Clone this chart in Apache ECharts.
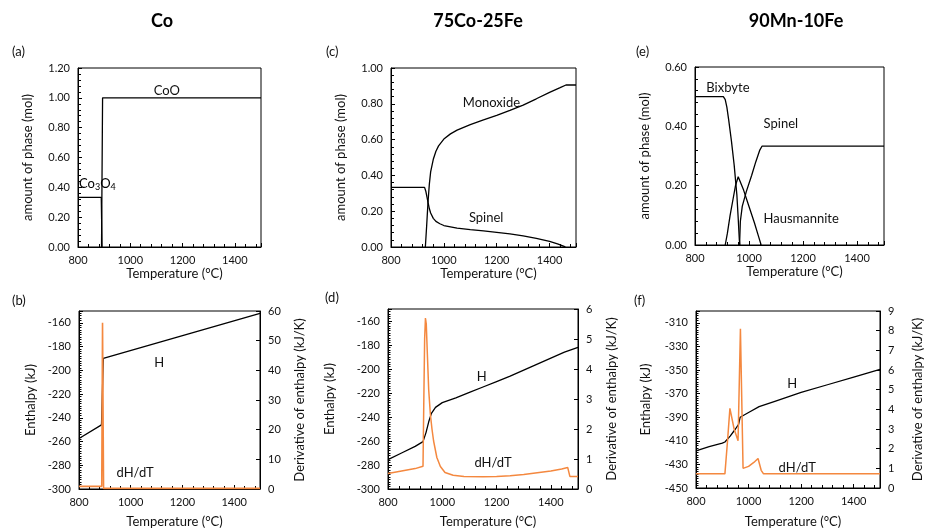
<!DOCTYPE html>
<html><head><meta charset="utf-8">
<script src="https://cdn.jsdelivr.net/npm/echarts@6/dist/echarts.min.js"></script>
<style>html,body{margin:0;padding:0;background:#fff}#c{width:925px;height:529px}</style>
</head><body><div id="c"></div>
<script>
// ---------- DATA ----------
const panelTitles = ['Co', '75Co-25Fe', '90Mn-10Fe'];
const panelLetters = ['(a)', '(c)', '(e)', '(b)', '(d)', '(f)'];
const tempTicks = [800, 1000, 1200, 1400];

// (a) Co: amount of phase (mol)  [T, mol]
const a_CoO   = [[890, 0], [894, 1.0], [1500, 1.0]];
const a_Co3O4 = [[800, 0.333], [889, 0.333], [892, 0]];

// (b) Co: enthalpy (kJ) and dH/dT (kJ/K)
const b_H    = [[800, -257.5], [887, -246], [894, -190], [1500, -152]];
const b_dHdT = [[800, 0.9], [888, 0.9], [891, 56], [895, 0.2], [1500, 0.2]];

// (c) 75Co-25Fe
const c_Monoxide = [[930, 0], [935, 0.12], [940, 0.25], [945, 0.35], [950, 0.42], [960, 0.49], [970, 0.535],
  [980, 0.565], [1000, 0.603], [1025, 0.632], [1050, 0.653], [1100, 0.684], [1150, 0.71], [1200, 0.735],
  [1250, 0.763], [1300, 0.793], [1350, 0.828], [1400, 0.864], [1440, 0.89], [1462, 0.905], [1500, 0.905]];
const c_Spinel = [[800, 0.333], [927, 0.333], [932, 0.31], [936, 0.28], [940, 0.25], [945, 0.215], [950, 0.19],
  [960, 0.16], [970, 0.143], [985, 0.13], [1000, 0.12], [1050, 0.105], [1100, 0.097], [1150, 0.09],
  [1200, 0.082], [1250, 0.073], [1300, 0.062], [1350, 0.048], [1400, 0.032], [1430, 0.018], [1455, 0.003], [1460, 0]];

// (d) 75Co-25Fe enthalpy
const d_H = [[800, -275.5], [850, -270], [900, -264.5], [929, -260.5], [940, -253], [950, -244], [960, -237],
  [975, -232], [1000, -228], [1050, -224], [1100, -219.5], [1150, -215], [1200, -210.5], [1250, -206],
  [1300, -201], [1350, -196], [1400, -191], [1450, -186], [1500, -182]];
const d_dHdT = [[800, 0.52], [850, 0.6], [900, 0.68], [929, 0.76], [932, 3.0], [935, 5.0], [938, 5.7], [941, 5.5],
  [945, 4.5], [950, 3.3], [956, 2.5], [962, 2.0], [968, 1.6], [980, 1.05], [993, 0.75], [1010, 0.55],
  [1040, 0.46], [1080, 0.42], [1150, 0.41], [1200, 0.42], [1250, 0.44], [1300, 0.48], [1350, 0.54],
  [1400, 0.6], [1440, 0.67], [1462, 0.72], [1470, 0.42], [1500, 0.42]];

// (e) 90Mn-10Fe
const e_Bixbyte = [[800, 0.5], [905, 0.5], [912, 0.49], [918, 0.465], [925, 0.42], [935, 0.35], [945, 0.27],
  [955, 0.17], [960, 0.09], [964, 0.02], [966, 0]];
const e_Spinel = [[965, 0], [968, 0.08], [975, 0.13], [990, 0.18], [1010, 0.235], [1025, 0.28], [1040, 0.32],
  [1048, 0.333], [1500, 0.333]];
const e_Hausmannite = [[912, 0], [920, 0.04], [930, 0.1], [940, 0.15], [950, 0.2], [960, 0.23], [965, 0.225],
  [980, 0.185], [1000, 0.13], [1020, 0.075], [1035, 0.03], [1045, 0]];

// (f) 90Mn-10Fe enthalpy
const f_H = [[800, -418.5], [850, -415], [900, -412], [910, -411], [930, -406], [950, -400], [962, -396],
  [968, -390], [1000, -386], [1040, -381], [1100, -376.5], [1200, -369], [1300, -362.5], [1400, -356], [1500, -349.5]];
const f_dHdT = [[800, 0.72], [910, 0.72], [920, 2.4], [929, 4.05], [945, 3.0], [960, 2.4], [969, 8.1],
  [979, 1.0], [1000, 1.1], [1020, 1.3], [1036, 1.5], [1048, 0.9], [1057, 0.72], [1500, 0.72]];

// ---------- STYLE / LAYOUT ----------
const FONT = 'Lato, "Open Sans", sans-serif';
const TXT = '#111';
const BLACK = '#000';
const ORANGE = '#F4883F';

const grids = [
  {left: 78, top: 68, width: 183, height: 179},   // a
  {left: 391, top: 68, width: 185, height: 179},  // c
  {left: 695, top: 67, width: 189, height: 178},  // e
  {left: 79, top: 311, width: 181, height: 179},  // b
  {left: 388, top: 309, width: 190, height: 180}, // d
  {left: 696, top: 311, width: 186, height: 178}  // f
].map(g => Object.assign({show: true, borderColor: BLACK, borderWidth: 1, containLabel: false}, g));

function xAxis(gi, nameGap) {
  return {
    type: 'value', gridIndex: gi, min: 800, max: 1500, interval: 200,
    name: 'Temperature (°C)', nameLocation: 'middle', nameGap: nameGap,
    nameTextStyle: {fontSize: 13, color: TXT, fontFamily: FONT, padding: [0, 0, 0, 10]},
    axisLine: {show: true, onZero: false, lineStyle: {color: BLACK, width: 1}},
    axisTick: {show: true, inside: true, length: 4, lineStyle: {color: BLACK}},
    minorTick: {show: true, splitNumber: 5, length: 3, lineStyle: {color: BLACK}},
    axisLabel: {fontSize: 11, color: TXT, fontFamily: FONT, margin: 8, showMaxLabel: false,
      formatter: v => tempTicks.indexOf(v) >= 0 ? String(v) : ''},
    splitLine: {show: false}
  };
}
function yAxis(gi, o) {
  return Object.assign({
    type: 'value', gridIndex: gi, nameLocation: 'middle', nameRotate: 90,
    nameTextStyle: {fontSize: 13, color: TXT, fontFamily: FONT},
    axisLine: {show: true, onZero: false, lineStyle: {color: BLACK, width: 1}},
    axisTick: {show: true, inside: true, length: 4, lineStyle: {color: BLACK}},
    axisLabel: {fontSize: 11, color: TXT, fontFamily: FONT, margin: 8},
    splitLine: {show: false}
  }, o);
}
const amount = v => v.toFixed(2);

const xAxes = [xAxis(0, 20), xAxis(1, 20), xAxis(2, 20), xAxis(3, 26), xAxis(4, 26), xAxis(5, 27)];
const yAxes = [
  yAxis(0, {min: 0, max: 1.2, interval: 0.2, name: 'amount of phase (mol)', nameGap: 44,
    minorTick: {show: true, splitNumber: 5, length: 3, lineStyle: {color: BLACK}},
    axisLabel: {fontSize: 11, color: TXT, fontFamily: FONT, margin: 8, formatter: amount}}),
  yAxis(1, {min: 0, max: 1.0, interval: 0.2, name: 'amount of phase (mol)', nameGap: 44,
    minorTick: {show: true, splitNumber: 5, length: 3, lineStyle: {color: BLACK}},
    axisLabel: {fontSize: 11, color: TXT, fontFamily: FONT, margin: 8, formatter: amount}}),
  yAxis(2, {min: 0, max: 0.6, interval: 0.2, name: 'amount of phase (mol)', nameGap: 44,
    minorTick: {show: true, splitNumber: 5, length: 3, lineStyle: {color: BLACK}},
    axisLabel: {fontSize: 11, color: TXT, fontFamily: FONT, margin: 8, formatter: amount}}),
  // b
  yAxis(3, {min: -300, max: -150, interval: 20, name: 'Enthalpy (kJ)', nameGap: 42,
    minorTick: {show: true, splitNumber: 10, length: 2.5, lineStyle: {color: BLACK}},
    axisLabel: {fontSize: 11, color: TXT, fontFamily: FONT, margin: 8, showMaxLabel: false}}),
  yAxis(3, {position: 'right', min: 0, max: 60, interval: 10, name: 'Derivative of enthalpy (kJ/K)', nameGap: 33}),
  // d
  yAxis(4, {min: -300, max: -150, interval: 20, name: 'Enthalpy (kJ)', nameGap: 52,
    minorTick: {show: true, splitNumber: 10, length: 2.5, lineStyle: {color: BLACK}},
    axisLabel: {fontSize: 11, color: TXT, fontFamily: FONT, margin: 8, showMaxLabel: false}}),
  yAxis(4, {position: 'right', min: 0, max: 6, interval: 1, name: 'Derivative of enthalpy (kJ/K)', nameGap: 27}),
  // f
  yAxis(5, {min: -450, max: -300, interval: 20, name: 'Enthalpy (kJ)', nameGap: 44,
    minorTick: {show: true, splitNumber: 10, length: 2.5, lineStyle: {color: BLACK}},
    axisLabel: {fontSize: 11, color: TXT, fontFamily: FONT, margin: 8, showMaxLabel: false}}),
  yAxis(5, {position: 'right', min: 0, max: 9, interval: 1, name: 'Derivative of enthalpy (kJ/K)', nameGap: 31})
];

function line(data, xi, yi, color, w) {
  return {type: 'line', xAxisIndex: xi, yAxisIndex: yi, data: data, showSymbol: false, symbol: 'none',
    lineStyle: {color: color, width: w || 1.3}, itemStyle: {color: color}, animation: false, silent: true, z: 3};
}
const series = [
  line(a_Co3O4, 0, 0, BLACK), line(a_CoO, 0, 0, BLACK),
  line(c_Spinel, 1, 1, BLACK), line(c_Monoxide, 1, 1, BLACK),
  line(e_Bixbyte, 2, 2, BLACK), line(e_Hausmannite, 2, 2, BLACK), line(e_Spinel, 2, 2, BLACK),
  line(b_H, 3, 3, BLACK), line(b_dHdT, 3, 4, ORANGE, 1.6),
  line(d_H, 4, 5, BLACK), line(d_dHdT, 4, 6, ORANGE, 1.5),
  line(f_H, 5, 7, BLACK), line(f_dHdT, 5, 8, ORANGE, 1.5)
];

// annotation labels in data coordinates: [xAxisIndex, yAxisIndex, T, value, text]
const annotations = [
  [0, 0, 1140, 1.05, 'CoO'],
  [1, 1, 1180, 0.805, 'Monoxide'],
  [1, 1, 1160, 0.162, 'Spinel'],
  [2, 2, 922, 0.53, 'Bixbyte'],
  [2, 2, 1118, 0.408, 'Spinel'],
  [2, 2, 1193, 0.088, 'Hausmannite'],
  [3, 3, 1110, -194, 'H'],
  [3, 3, 1017, -286, 'dH/dT'],
  [4, 5, 1145, -206.5, 'H'],
  [4, 5, 1187, -278.5, 'dH/dT'],
  [5, 7, 1166, -361.5, 'H'],
  [5, 7, 1185, -433, 'dH/dT']
];

const chart = echarts.init(document.getElementById('c'), null, {renderer: 'canvas'});
chart.setOption({
  backgroundColor: '#fff',
  animation: false,
  grid: grids, xAxis: xAxes, yAxis: yAxes, series: series
});

const gfx = [];
const titleX = [162, 478, 796];
panelTitles.forEach((t, i) => gfx.push({type: 'text', x: titleX[i], y: 21,
  style: {text: t, font: 'bold 18px ' + FONT, fill: '#000', align: 'center', verticalAlign: 'middle'}}));
const letterPos = [[12, 52], [326, 52], [636, 52], [12, 301], [325, 298], [634, 301]];
panelLetters.forEach((t, i) => gfx.push({type: 'text', x: letterPos[i][0], y: letterPos[i][1],
  style: {text: t, font: '13px ' + FONT, fill: TXT, align: 'left', verticalAlign: 'middle'}}));
annotations.forEach(a => {
  const p = chart.convertToPixel({xAxisIndex: a[0], yAxisIndex: a[1]}, [a[2], a[3]]);
  gfx.push({type: 'text', x: p[0], y: p[1],
    style: {text: a[4], font: '13px ' + FONT, fill: TXT, align: 'center', verticalAlign: 'middle'}});
});
// Co3O4 label with subscripts
const pc = chart.convertToPixel({xAxisIndex: 0, yAxisIndex: 0}, [800, 0.425]);
gfx.push({type: 'text', x: pc[0] + 1, y: pc[1],
  style: {text: '{n|Co}{s|3}{n|O}{s|4}', align: 'left', verticalAlign: 'middle',
    rich: {n: {fontSize: 13, fontFamily: FONT, color: TXT, lineHeight: 18},
           s: {fontSize: 9, fontFamily: FONT, color: TXT, lineHeight: 18, padding: [7, 0, 0, 0]}}}});
chart.setOption({graphic: gfx});
</script></body></html>
